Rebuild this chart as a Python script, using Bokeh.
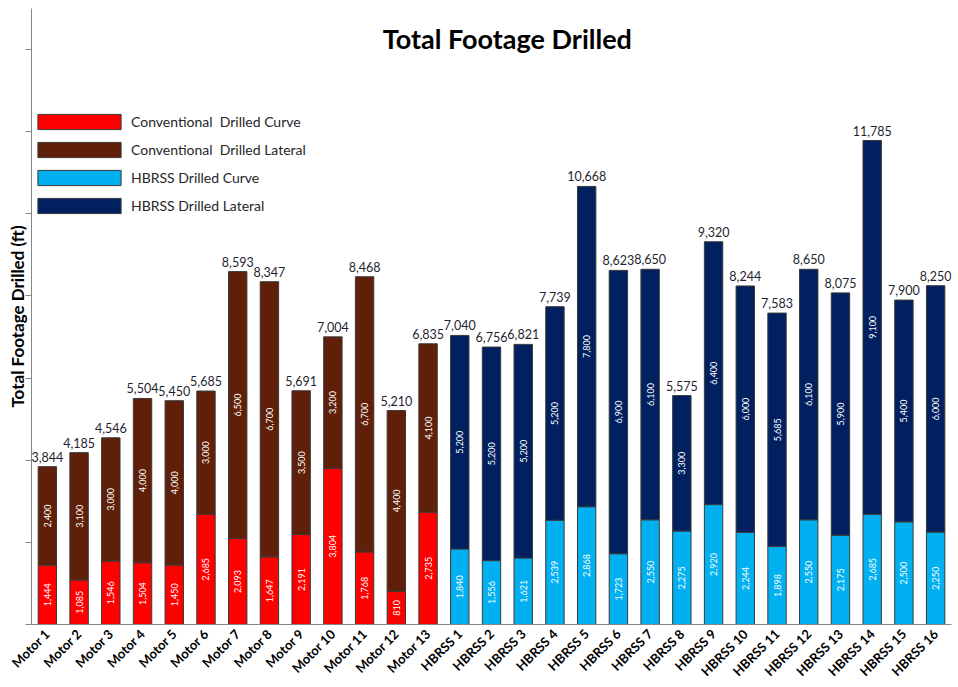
import math
from bokeh.plotting import figure
from bokeh.models import (ColumnDataSource, FactorRange, Range1d, FixedTicker,
                          Legend, LegendItem, Label, CustomJSTickFormatter)
from bokeh.core.properties import value
from bokeh.embed import file_html
from bokeh.resources import INLINE

categories = ["Motor 1", "Motor 2", "Motor 3", "Motor 4", "Motor 5", "Motor 6",
              "Motor 7", "Motor 8", "Motor 9", "Motor 10", "Motor 11", "Motor 12",
              "Motor 13", "HBRSS 1", "HBRSS 2", "HBRSS 3", "HBRSS 4", "HBRSS 5",
              "HBRSS 6", "HBRSS 7", "HBRSS 8", "HBRSS 9", "HBRSS 10", "HBRSS 11",
              "HBRSS 12", "HBRSS 13", "HBRSS 14", "HBRSS 15", "HBRSS 16"]
curve = [1444, 1085, 1546, 1504, 1450, 2685, 2093, 1647, 2191, 3804, 1768, 810, 2735,
         1840, 1556, 1621, 2539, 2868, 1723, 2550, 2275, 2920, 2244, 1898, 2550, 2175,
         2685, 2500, 2250]
lateral = [2400, 3100, 3000, 4000, 4000, 3000, 6500, 6700, 3500, 3200, 6700, 4400, 4100,
           5200, 5200, 5200, 5200, 7800, 6900, 6100, 3300, 6400, 6000, 5685, 6100, 5900,
           9100, 5400, 6000]
is_hbrss = [c.startswith("HBRSS") for c in categories]
legend_labels = ["Conventional\u00a0\u00a0Drilled Curve", "Conventional\u00a0\u00a0Drilled Lateral",
                 "HBRSS Drilled Curve", "HBRSS Drilled Lateral"]
title_text = "Total Footage Drilled"
y_label = "Total Footage Drilled (ft)"
y_ticks = [0, 2000, 4000, 6000, 8000, 10000, 12000, 14000]

RED, BROWN, LBLUE, NAVY = "#FF0000", "#5F1F08", "#00B0F0", "#002060"

total = [c + l for c, l in zip(curve, lateral)]
src = ColumnDataSource(dict(
    cat=categories, curve=curve, lateral=lateral, total=total,
    curve_mid=[c / 2 for c in curve],
    lat_mid=[c + l / 2 for c, l in zip(curve, lateral)],
    curve_txt=[f"{v:,}" for v in curve],
    lat_txt=[f"{v:,}" for v in lateral],
    total_txt=[f"{v:,}" for v in total],
    curve_color=[LBLUE if h else RED for h in is_hbrss],
    lat_color=[NAVY if h else BROWN for h in is_hbrss],
))

xr = FactorRange(*categories, range_padding=0, factor_padding=0)
p = figure(width=958, height=687, x_range=xr, y_range=Range1d(0, 15000),
           output_backend="svg", toolbar_location=None,
           min_border_left=31, min_border_right=7, min_border_top=8,
           min_border_bottom=50)
p.outline_line_color = None
p.xgrid.grid_line_color = None
p.ygrid.grid_line_color = None

r_curve = p.vbar(x="cat", bottom=0, top="curve", width=0.58, source=src,
                 fill_color="curve_color", line_color="#3a3a3a", line_width=1)
r_lat = p.vbar(x="cat", bottom="curve", top="total", width=0.58, source=src,
               fill_color="lat_color", line_color="#3a3a3a", line_width=1)

font = "Lato"
# segment labels
p.text(x="cat", y="curve_mid", text="curve_txt", source=src, angle=math.pi / 2,
       text_align="center", text_baseline="middle", text_color="white",
       text_font=value(font), text_font_size="9px")
p.text(x="cat", y="lat_mid", text="lat_txt", source=src, angle=math.pi / 2,
       text_align="center", text_baseline="middle", text_color="white",
       text_font=value(font), text_font_size="9px")
# totals
p.text(x="cat", y="total", text="total_txt", source=src, y_offset=-5,
       text_align="center", text_baseline="bottom", text_color="#1f1f2f",
       text_font=value(font), text_font_size="12.5px")

# title
p.add_layout(Label(x=15.0, y=14270, text=title_text, text_font=font,
                   text_font_size="27px", text_font_style="bold", text_color="black",
                   text_align="center", text_baseline="middle"))

# axes
p.yaxis.ticker = FixedTicker(ticks=y_ticks)
p.yaxis.formatter = CustomJSTickFormatter(code="return ''")
p.yaxis.major_label_standoff = 0
p.yaxis.minor_tick_line_color = None
p.yaxis.major_tick_in = 0
p.yaxis.major_tick_out = 6
p.yaxis.axis_line_color = "#868686"
p.yaxis.major_tick_line_color = "#868686"
p.yaxis.axis_label = y_label
p.yaxis.axis_label_standoff = -2
p.yaxis.axis_label_text_font = font
p.yaxis.axis_label_text_font_size = "17px"
p.yaxis.axis_label_text_font_style = "bold"
p.yaxis.axis_label_text_color = "black"

p.xaxis.axis_line_color = "#868686"
p.xaxis.major_tick_in = 0
p.xaxis.major_tick_out = 0
p.xaxis.major_label_orientation = math.pi / 4
p.xaxis.major_label_standoff = 7
p.xaxis.major_label_text_font = font
p.xaxis.major_label_text_font_size = "13px"
p.xaxis.major_label_text_font_style = "bold"
p.xaxis.major_label_text_color = "black"

items = [LegendItem(label=legend_labels[0], renderers=[r_curve], index=0),
         LegendItem(label=legend_labels[1], renderers=[r_lat], index=0),
         LegendItem(label=legend_labels[2], renderers=[r_curve], index=13),
         LegendItem(label=legend_labels[3], renderers=[r_lat], index=13)]
legend = Legend(items=items, location=(-4, 409), glyph_width=104, glyph_height=19,
                label_height=15, spacing=9, label_standoff=0, padding=0, margin=0,
                border_line_alpha=0, background_fill_alpha=0,
                label_text_font=font, label_text_font_size="14px",
                label_text_color="#262626")
p.add_layout(legend)

open("out.html", "w").write(file_html(p, INLINE))
